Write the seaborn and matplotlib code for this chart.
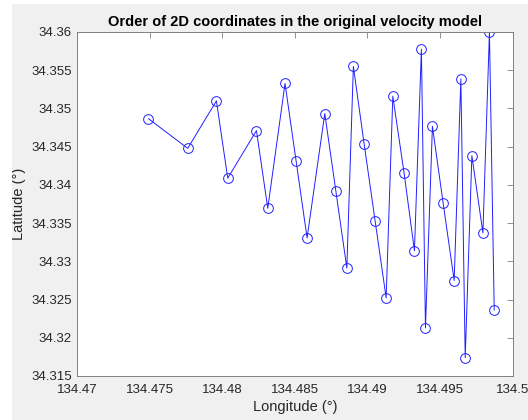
import numpy as np
import pandas as pd
import matplotlib
matplotlib.use("Agg")
import matplotlib.pyplot as plt
import seaborn as sns
from matplotlib.patches import Rectangle

# Points in the order they appear in the velocity model
lon = [134.47490, 134.47761, 134.47959, 134.48037, 134.48235, 134.48313,
       134.48432, 134.48508, 134.48584, 134.48706, 134.48782, 134.48858,
       134.48903, 134.48977, 134.49053, 134.49129, 134.49175, 134.49253,
       134.49324, 134.49372, 134.49400, 134.49448, 134.49522, 134.49598,
       134.49644, 134.49674, 134.49720, 134.49796, 134.49841, 134.49874]
lat = [34.34867, 34.34478, 34.35099, 34.34088, 34.34710, 34.33694,
       34.35327, 34.34316, 34.33306, 34.34933, 34.33923, 34.32912,
       34.35550, 34.34539, 34.33529, 34.32522, 34.35160, 34.34150,
       34.33139, 34.35777, 34.32129, 34.34766, 34.33760, 34.32749,
       34.35387, 34.31740, 34.34382, 34.33371, 34.36000, 34.32361]

xticks = [134.47, 134.475, 134.48, 134.485, 134.49, 134.495, 134.5]
xticklabels = ["134.47", "134.475", "134.48", "134.485", "134.49", "134.495", "134.5"]
yticks = [34.315, 34.32, 34.325, 34.33, 34.335, 34.34, 34.345, 34.35, 34.355, 34.36]
yticklabels = ["34.315", "34.32", "34.325", "34.33", "34.335", "34.34", "34.345", "34.35", "34.355", "34.36"]

df = pd.DataFrame({"lon": lon, "lat": lat, "order": np.arange(len(lon))})

sns.set_style("white")
plt.rcParams["font.family"] = ["Liberation Sans", "DejaVu Sans"]

fig = plt.figure(figsize=(5.28, 4.2), dpi=100)
fig.patch.set_facecolor("#f0f0f0")
# white window strips from the screenshot
fig.patches.append(Rectangle((0, 0), 12 / 528, 1, transform=fig.transFigure,
                             facecolor="white", edgecolor="none", zorder=0))
fig.patches.append(Rectangle((0, 1 - 4 / 420), 1, 4 / 420, transform=fig.transFigure,
                             facecolor="white", edgecolor="none", zorder=0))

ax = fig.add_axes([77.3 / 528, 44 / 420, 435.2 / 528, 344 / 420])
ax.set_facecolor("white")

sns.lineplot(data=df, x="lon", y="lat", sort=False, estimator=None, ax=ax,
             color="#2020ff", linewidth=0.7, marker="o", markersize=7,
             markerfacecolor="none", markeredgecolor="#2020ff", markeredgewidth=0.7)

ax.set_xlim(134.47, 134.5)
ax.set_ylim(34.315, 34.36)
ax.set_xticks(xticks)
ax.set_xticklabels(xticklabels)
ax.set_yticks(yticks)
ax.set_yticklabels(yticklabels)
ax.tick_params(direction="in", length=4, width=0.6, colors="#808080",
               labelcolor="#262626", labelsize=9.5, top=True, right=True)
ax.tick_params(axis="x", pad=6)
ax.tick_params(axis="y", pad=4)

for s in ax.spines.values():
    s.set_visible(True)
    s.set_color("#808080")
    s.set_linewidth(0.7)

ax.set_xlabel("Longitude (°)", fontsize=10.5, color="#262626", labelpad=3)
ax.set_ylabel("Latitude (°)", fontsize=10.5, color="#262626", labelpad=4)
ax.set_title("Order of 2D coordinates in the original velocity model",
             fontsize=10.5, fontweight="bold", color="black", pad=4)

fig.savefig("out.png", dpi=100, facecolor=fig.get_facecolor())
